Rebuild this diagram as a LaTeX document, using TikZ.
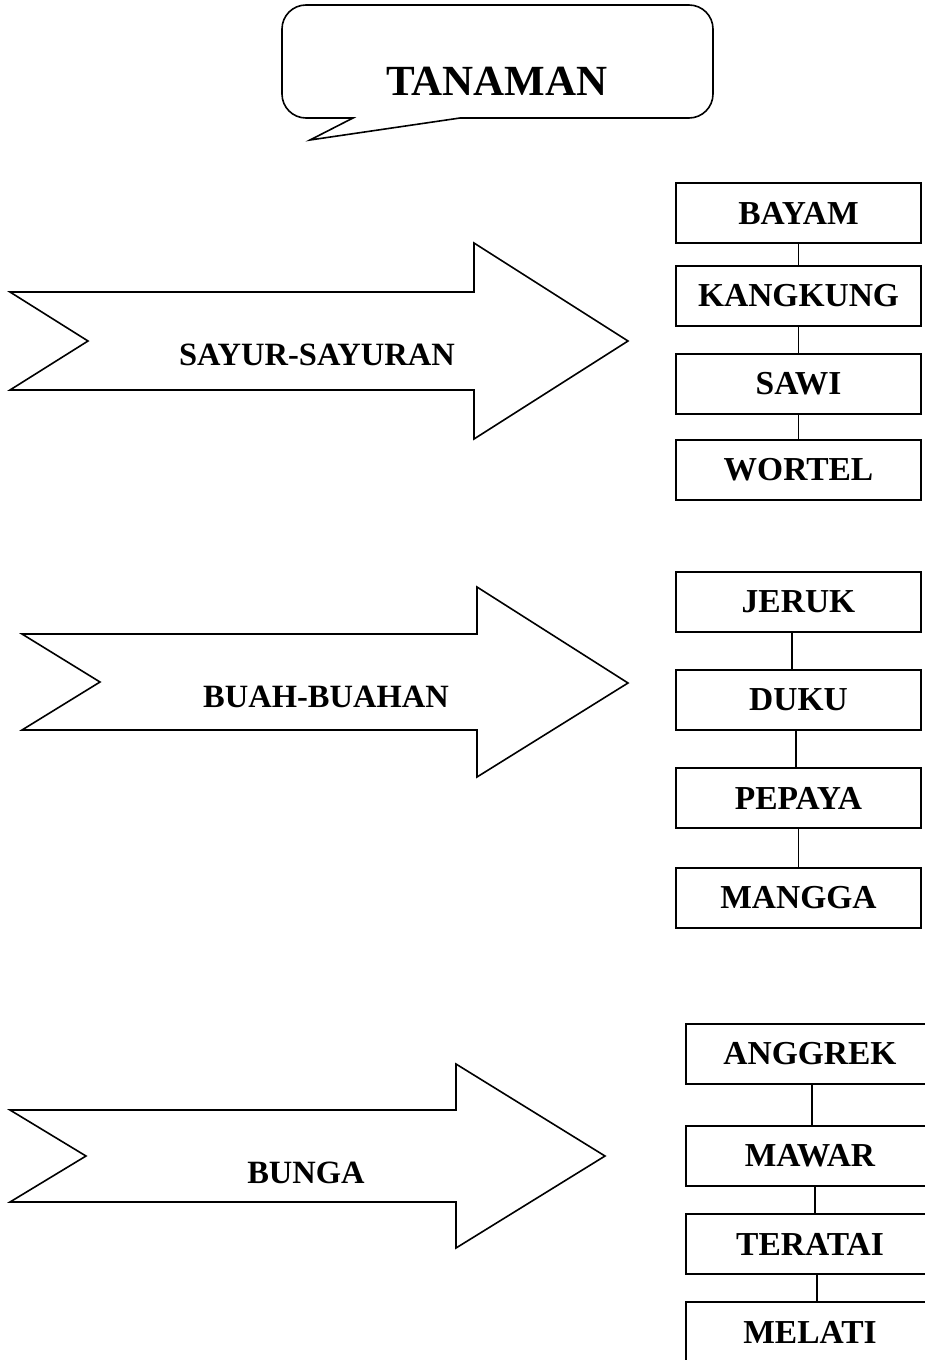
\documentclass[tikz,border=0pt]{standalone}
\usepackage{fontspec}
\setmainfont{Liberation Serif}
\usetikzlibrary{positioning}
\tikzset{
  kotak/.style={draw, line width=2pt, minimum width=245pt, minimum height=60pt,
    inner sep=0pt, font=\bfseries\fontsize{33.5}{38}\selectfont},
  panah/.style={draw, line width=1.6pt, line join=miter},
  label/.style={font=\bfseries\fontsize{32.5}{38}\selectfont},
  garis/.style={line width=1.5pt}
}
\begin{document}
\begin{tikzpicture}[x=1pt,y=-1pt]
\useasboundingbox (0,0) rectangle (925,1360);

% judul
\draw[panah] {[rounded corners=24pt] (460,118) -- (713,118) -- (713,5) -- (282,5) -- (282,118)}
   -- (353,118) -- (310,140) -- cycle;
\node[font=\bfseries\fontsize{43}{50}\selectfont] (tanaman) at (497,81) {TANAMAN};

% panah
\draw[panah] (10,292) -- (474,292) -- (474,243) -- (628,341) -- (474,439)
   -- (474,390) -- (10,390) -- (88,341) -- cycle;
\draw[panah] (22,634) -- (477,634) -- (477,587) -- (628,683) -- (477,777)
   -- (477,730) -- (22,730) -- (100,682) -- cycle;
\draw[panah] (10,1110) -- (456,1110) -- (456,1064) -- (605,1156) -- (456,1248)
   -- (456,1202) -- (10,1202) -- (86,1156) -- cycle;

\node[label] (sayur) at (317,355) {SAYUR-SAYURAN};
\node[label] (buah) at (326,697) {BUAH-BUAHAN};
\node[label] (bunga) at (306,1173) {BUNGA};

% sayur
\node[kotak] (bayam) at (798.5,213) {BAYAM};
\node[kotak] (kangkung) at (798.5,295.5) {KANGKUNG};
\node[kotak] (sawi) at (798.5,384) {SAWI};
\node[kotak] (wortel) at (798.5,470) {WORTEL};

% buah
\node[kotak] (jeruk) at (798.5,601.5) {JERUK};
\node[kotak] (duku) at (798.5,699.5) {DUKU};
\node[kotak] (pepaya) at (798.5,798) {PEPAYA};
\node[kotak] (mangga) at (798.5,898) {MANGGA};

% bunga
\node[kotak, minimum width=248pt] (anggrek) at (810,1053.5) {ANGGREK};
\node[kotak, minimum width=248pt] (mawar) at (810,1155.5) {MAWAR};
\node[kotak, minimum width=248pt] (teratai) at (810,1244) {TERATAI};
\node[kotak, minimum width=248pt] (melati) at (810,1332) {MELATI};

\path[garis] (bayam) edge (kangkung)
             (kangkung) edge (sawi)
             (sawi) edge (wortel);
\path[garis] (jeruk.south -| 792,0) edge (duku.north -| 792,0)
             (duku.south -| 796,0) edge (pepaya.north -| 796,0)
             (pepaya) edge (mangga);
\path[garis] (anggrek.south -| 812,0) edge (mawar.north -| 812,0)
             (mawar.south -| 815,0) edge (teratai.north -| 815,0)
             (teratai.south -| 817,0) edge (melati.north -| 817,0);
\end{tikzpicture}
\end{document}
